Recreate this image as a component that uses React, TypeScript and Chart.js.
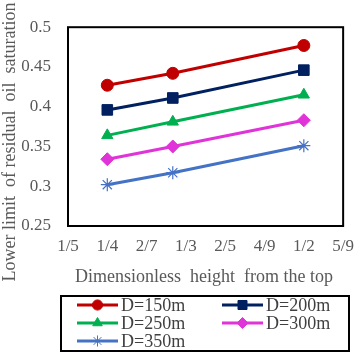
import React, { useEffect, useRef } from 'react';
import { Chart, registerables } from 'chart.js';
import { drawPoint } from 'chart.js/helpers';

Chart.register(...registerables);

// ---- data ----
const xValues = [0.25, 0.3333, 0.5];
const xTickLabels = ['1/5', '1/4', '2/7', '1/3', '2/5', '4/9', '1/2', '5/9'];
const seriesNames = ['D=150m', 'D=200m', 'D=250m', 'D=300m', 'D=350m'];
const d150 = [0.427, 0.442, 0.477];
const d200 = [0.396, 0.411, 0.446];
const d250 = [0.364, 0.381, 0.415];
const d300 = [0.334, 0.350, 0.383];
const d350 = [0.302, 0.317, 0.351];
const seriesValues = [d150, d200, d250, d300, d350];
const xTitle = 'Dimensionless  height  from the top';
const yTitle = 'Lower limit  of residual  oil  saturation';

// ---- styles ----
const colors = ['#C00000', '#002060', '#00B050', '#E033D8', '#4472C4'];
const pointStyles = ['circle', 'rect', 'triangle', 'rectRot', 'star'];
const pointRadii = [6, 7.5, 6.5, 6.5, 6.5];
const textColor = '#595959';
const serif = '"Liberation Serif", "Times New Roman", serif';

const framePlugin = {
  id: 'frameAndTitles',
  beforeDatasetsDraw(chart: any) {
    const { ctx, chartArea } = chart;
    ctx.save();
    ctx.lineWidth = 2;
    ctx.strokeStyle = '#000';
    ctx.strokeRect(chartArea.left, chartArea.top, chartArea.right - chartArea.left, chartArea.bottom - chartArea.top);
    ctx.restore();
  },
  afterDraw(chart: any) {
    const { ctx } = chart;
    ctx.save();
    // axis titles
    ctx.fillStyle = textColor;
    ctx.font = `18px ${serif}`;
    ctx.textAlign = 'center';
    ctx.textBaseline = 'middle';
    ctx.fillText(xTitle, 204, 277);
    ctx.save();
    ctx.translate(10, 142);
    ctx.rotate(-Math.PI / 2);
    ctx.fillText(yTitle, 0, 0);
    ctx.restore();

    // legend
    ctx.lineWidth = 2;
    ctx.strokeStyle = '#000';
    ctx.strokeRect(61, 296, 288, 55);
    chart.data.datasets.forEach((ds: any, i: number) => {
      const col = i % 2;
      const row = Math.floor(i / 2);
      const x0 = col ? 222 : 77;
      const y = 305 + row * 18;
      ctx.strokeStyle = ds.borderColor;
      ctx.lineWidth = 3;
      ctx.beginPath();
      ctx.moveTo(x0, y);
      ctx.lineTo(x0 + 41, y);
      ctx.stroke();
      ctx.fillStyle = ds.pointBackgroundColor;
      ctx.strokeStyle = ds.pointBorderColor;
      ctx.lineWidth = 1;
      drawPoint(ctx, { pointStyle: ds.pointStyle, radius: ds.pointRadius * 0.85, rotation: 0, borderWidth: 1 } as any, x0 + 20.5, y);
      ctx.fillStyle = '#404040';
      ctx.font = `18px ${serif}`;
      ctx.textAlign = 'left';
      ctx.textBaseline = 'middle';
      ctx.fillText(ds.label, x0 + 44, y + 1);
    });
    ctx.restore();
  },
};

export default function App() {
  const ref = useRef<HTMLCanvasElement>(null);
  useEffect(() => {
    if (!ref.current) return;
    const datasets = seriesValues.map((vals, i) => ({
      label: seriesNames[i],
      data: vals.map((v, j) => ({ x: xValues[j], y: v })),
      borderColor: colors[i],
      backgroundColor: colors[i],
      pointBackgroundColor: colors[i],
      pointBorderColor: colors[i],
      pointStyle: pointStyles[i],
      pointRadius: pointRadii[i],
      pointBorderWidth: i === 4 ? 1.2 : 1,
      borderWidth: 3,
      showLine: true,
      clip: false,
    }));
    const chart = new Chart(ref.current, {
      type: 'scatter',
      data: { datasets } as any,
      options: {
        animation: false,
        responsive: false,
        maintainAspectRatio: false,
        layout: { padding: { top: 12, right: 20, bottom: 65, left: 0 } },
        plugins: { legend: { display: false }, tooltip: { enabled: false } },
        scales: {
          x: {
            type: 'linear',
            min: 0.2,
            max: 0.55,
            afterFit: (s: any) => { s.height = 64; },
            grid: { display: false, drawTicks: false },
            border: { display: false },
            ticks: {
              stepSize: 0.05,
              padding: 10,
              color: textColor,
              font: { family: serif, size: 17 },
              maxRotation: 0,
              autoSkip: false,
              callback: (_v: any, i: number) => xTickLabels[i],
            },
          },
          y: {
            type: 'linear',
            min: 0.25,
            max: 0.5,
            afterFit: (s: any) => { s.width = 68; },
            grid: { display: false, drawTicks: false },
            border: { display: false },
            ticks: {
              stepSize: 0.05,
              padding: 17,
              color: textColor,
              font: { family: serif, size: 17 },
              callback: (v: any) => String(Number(Number(v).toFixed(2))),
            },
          },
        },
      } as any,
      plugins: [framePlugin],
    });
    return () => chart.destroy();
  }, []);
  return (
    <div style={{ position: 'absolute', left: 0, top: 0, width: 364, height: 355, background: '#fff' }}>
      <canvas ref={ref} width={364} height={355} />
    </div>
  );
}
